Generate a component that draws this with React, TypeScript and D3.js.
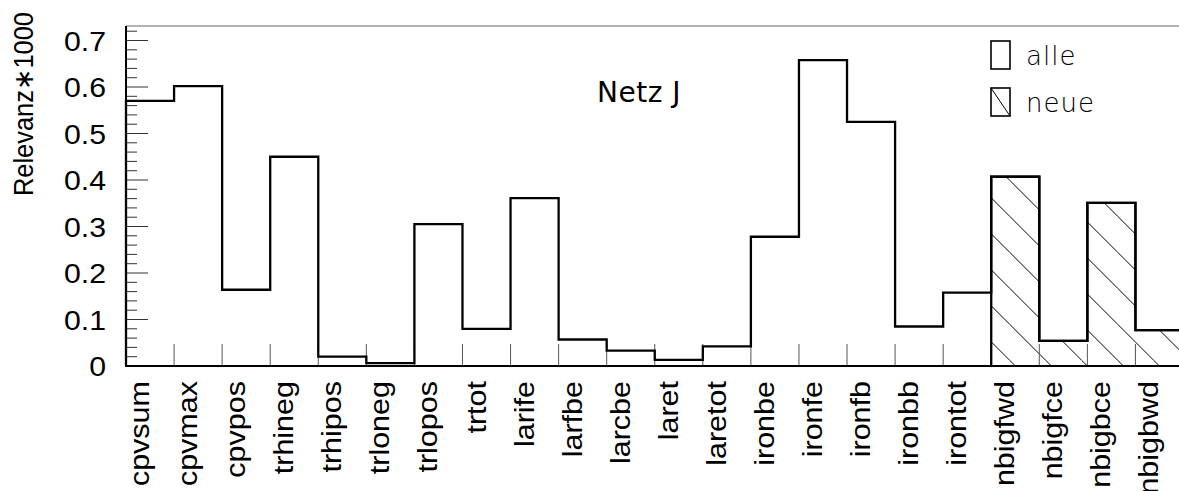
import React from "react";
import * as d3 from "d3";

const categories = [
  "cpvsum", "cpvmax", "cpvpos", "trhineg", "trhipos", "trloneg", "trlopos", "trtot",
  "larife", "larfbe", "larcbe", "laret", "laretot", "ironbe", "ironfe", "ironfb",
  "ironbb", "irontot", "nbigfwd", "nbigfce", "nbigbce", "nbigbwd",
];
const alleValues = [
  0.570, 0.602, 0.164, 0.450, 0.020, 0.006, 0.305, 0.080,
  0.361, 0.057, 0.033, 0.013, 0.042, 0.278, 0.658, 0.525,
  0.085, 0.158, 0.407, 0.054, 0.351, 0.077,
];
const neueValues = [
  0, 0, 0, 0, 0, 0, 0, 0,
  0, 0, 0, 0, 0, 0, 0, 0,
  0, 0, 0.407, 0.054, 0.351, 0.077,
];
const yMajorTicks = [0, 0.1, 0.2, 0.3, 0.4, 0.5, 0.6, 0.7];
const yTickLabels = ["0", "0.1", "0.2", "0.3", "0.4", "0.5", "0.6", "0.7"];
const legendLabels = ["alle", "neue"];
const title = "Netz J";
const yTitle = "Relevanz\u22171000";

const W = 1179;
const H = 491;
const X0 = 126;
const X1 = 1183.5;
const Y0 = 366;
const YTOP = 26;

export default function App() {
  const x = d3.scaleLinear().domain([0, categories.length]).range([X0, X1]);
  const y = d3.scaleLinear().domain([0, 0.7312]).range([Y0, YTOP]);

  const stepPath = (vals: number[], from: number) => {
    const p = d3.path();
    p.moveTo(x(from), y(0));
    for (let i = from; i < vals.length; i++) {
      p.lineTo(x(i), y(vals[i]));
      p.lineTo(x(i + 1), y(vals[i]));
    }
    p.lineTo(x(vals.length), y(0));
    return p.toString();
  };

  const minorTicks = d3.range(0, 37).map((i) => i * 0.02).filter((v) => v <= 0.725);
  const firstNeue = neueValues.findIndex((v) => v > 0);

  return (
    <div style={{ position: "absolute", left: 0, top: 0 }}>
      <svg width={W} height={H} style={{ display: "block", background: "#fff" }}>
        <defs>
          <pattern id="hatch" patternUnits="userSpaceOnUse" width={36} height={36}>
            <line x1={1.4} y1={0} x2={37.4} y2={36} stroke="#000" strokeWidth={1} />
            <line x1={-34.6} y1={0} x2={1.4} y2={36} stroke="#000" strokeWidth={1} />
          </pattern>
          <pattern id="hatchLeg" patternUnits="objectBoundingBox" width={1} height={1}>
          </pattern>
        </defs>

        {/* hatched neue bars */}
        {neueValues.map((v, i) =>
          v > 0 ? (
            <rect key={"h" + i} x={x(i)} y={y(v)} width={x(i + 1) - x(i)} height={y(0) - y(v)} fill="url(#hatch)" />
          ) : null
        )}

        {/* bin ticks on x axis */}
        {d3.range(0, categories.length + 1).map((i) => (
          <line key={"bt" + i} x1={x(i)} x2={x(i)} y1={Y0} y2={Y0 - 22} stroke="#555" strokeWidth={1} />
        ))}

        {/* y ticks */}
        {minorTicks.map((v, i) => {
          const major = Math.abs(v * 10 - Math.round(v * 10)) < 1e-6;
          return (
            <line key={"yt" + i} x1={X0} x2={X0 + (major ? 22 : 11)} y1={y(v)} y2={y(v)} stroke="#333" strokeWidth={1} />
          );
        })}

        {/* outlines */}
        <path d={stepPath(alleValues, 0)} fill="none" stroke="#000" strokeWidth={2.3} />
        <path d={stepPath(neueValues, firstNeue)} fill="none" stroke="#000" strokeWidth={2.3} />

        {/* frame */}
        <line x1={X0} x2={X1} y1={YTOP} y2={YTOP} stroke="#666" strokeWidth={1.2} />
        <line x1={X0} x2={X0} y1={YTOP} y2={Y0 + 1} stroke="#000" strokeWidth={2} />
        <line x1={X0} x2={X1} y1={Y0} y2={Y0} stroke="#000" strokeWidth={2} />

        {/* y tick labels */}
        {yMajorTicks.map((v, i) => (
          <text
            key={"yl" + i}
            transform={`translate(106,${y(v) + 10}) scale(1.08,1)`}
            textAnchor="end"
            fontFamily="'Liberation Sans', Arial, sans-serif"
            fontSize={28}
            fill="#000"
          >
            {yTickLabels[i]}
          </text>
        ))}

        {/* y title */}
        <text
          transform={`translate(33,196) rotate(-90)`}
          textAnchor="start"
          fontFamily="'Liberation Sans', Arial, sans-serif"
          fontSize={27}
          textLength={184}
          lengthAdjust="spacingAndGlyphs"
          fill="#000"
        >
          {yTitle}
        </text>

        {/* x labels */}
        {categories.map((c, i) => (
          <text
            key={"xl" + i}
            transform={`translate(${(x(i) + x(i + 1)) / 2 - 1},381) rotate(-90) scale(1.09,1)`}
            textAnchor="end"
            fontFamily="'Liberation Sans', Arial, sans-serif"
            fontSize={28}
            fill="#000"
          >
            {c}
          </text>
        ))}

        {/* title */}
        <text x={597} y={101.5} fontFamily="'DejaVu Sans', sans-serif" fontSize={28} fill="#000" letterSpacing={0.5}>
          {title}
        </text>

        {/* legend */}
        <rect x={991} y={41} width={19} height={28} fill="#fff" stroke="#000" strokeWidth={1.6} />
        <rect x={991} y={88} width={19} height={28} fill="#fff" stroke="#000" strokeWidth={1.6} />
        <line x1={991} y1={88} x2={1010} y2={116} stroke="#000" strokeWidth={1} />
        {legendLabels.map((l, i) => (
          <text
            key={"lg" + i}
            x={1026}
            y={65 + i * 46.5}
            fontFamily="'DejaVu Sans', sans-serif"
            fontWeight={200}
            fontSize={26}
            letterSpacing={1}
            fill="#000"
          >
            {l}
          </text>
        ))}
      </svg>
    </div>
  );
}
